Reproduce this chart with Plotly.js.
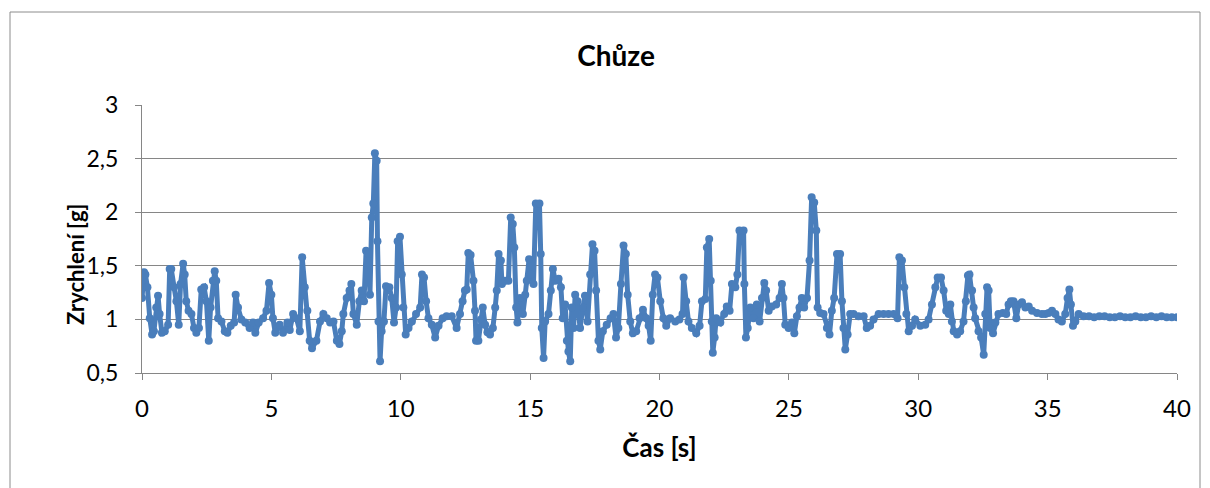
<!DOCTYPE html>
<html>
<head>
<meta charset="utf-8">
<script src="https://cdn.plot.ly/plotly-3.0.1.min.js"></script>
<style>html,body{margin:0;padding:0;background:#fff;}#chart{width:1210px;height:488px;}</style>
</head>
<body>
<div id="chart"></div>
<script>
// Time [s]
const time_s = [
  0, 0.08, 0.13, 0.21, 0.30, 0.39, 0.46, 0.55, 0.62, 0.68,
  0.77, 0.88, 1.01, 1.07, 1.13, 1.24, 1.33, 1.42, 1.49, 1.59,
  1.65, 1.71, 1.80, 1.91, 2.01, 2.10, 2.20, 2.29, 2.40, 2.49,
  2.58, 2.65, 2.74, 2.81, 2.87, 2.94, 3.07, 3.20, 3.30, 3.43,
  3.56, 3.62, 3.71, 3.84, 3.99, 4.16, 4.29, 4.38, 4.51, 4.68,
  4.81, 4.91, 5.00, 5.06, 5.15, 5.32, 5.45, 5.62, 5.71, 5.84,
  5.97, 6.10, 6.19, 6.29, 6.39, 6.48, 6.57, 6.74, 6.88, 7.01,
  7.14, 7.27, 7.40, 7.53, 7.63, 7.72, 7.78, 7.91, 8.02, 8.09,
  8.17, 8.30, 8.40, 8.49, 8.58, 8.66, 8.75, 8.81, 8.88, 8.94,
  9.00, 9.07, 9.10, 9.14, 9.20, 9.26, 9.35, 9.43, 9.56, 9.65,
  9.74, 9.82, 9.88, 9.97, 10.04, 10.10, 10.19, 10.30, 10.43, 10.59,
  10.75, 10.82, 10.90, 10.98, 11.07, 11.20, 11.33, 11.46, 11.62, 11.77,
  11.97, 12.16, 12.29, 12.39, 12.48, 12.55, 12.61, 12.70, 12.81, 12.87,
  12.91, 13.00, 13.10, 13.17, 13.26, 13.35, 13.45, 13.56, 13.65, 13.71,
  13.78, 13.87, 13.91, 14.03, 14.16, 14.25, 14.33, 14.39, 14.46, 14.51,
  14.61, 14.72, 14.81, 14.87, 14.96, 15.03, 15.13, 15.22, 15.36, 15.41,
  15.45, 15.52, 15.58, 15.71, 15.80, 15.88, 15.97, 16.10, 16.19, 16.26,
  16.35, 16.42, 16.48, 16.55, 16.61, 16.68, 16.74, 16.83, 16.93, 17.04,
  17.12, 17.22, 17.32, 17.41, 17.49, 17.55, 17.64, 17.71, 17.81, 17.96,
  18.11, 18.22, 18.32, 18.41, 18.51, 18.61, 18.70, 18.77, 18.87, 18.97,
  19.10, 19.23, 19.36, 19.49, 19.58, 19.66, 19.74, 19.83, 19.92, 20.03,
  20.15, 20.26, 20.41, 20.61, 20.77, 20.89, 20.93, 21.03, 21.12, 21.25,
  21.42, 21.55, 21.64, 21.77, 21.83, 21.92, 21.98, 22.02, 22.06, 22.13,
  22.19, 22.35, 22.50, 22.60, 22.71, 22.80, 22.93, 23.01, 23.09, 23.25,
  23.28, 23.34, 23.41, 23.51, 23.63, 23.76, 23.87, 23.96, 24.05, 24.12,
  24.22, 24.34, 24.51, 24.64, 24.73, 24.79, 24.86, 24.99, 25.12, 25.21,
  25.31, 25.41, 25.50, 25.59, 25.70, 25.80, 25.88, 25.98, 26.06, 26.11,
  26.21, 26.34, 26.47, 26.57, 26.66, 26.75, 26.86, 26.98, 27.05, 27.11,
  27.18, 27.27, 27.37, 27.50, 27.69, 27.89, 28.01, 28.14, 28.27, 28.47,
  28.66, 28.85, 29.05, 29.20, 29.27, 29.37, 29.46, 29.54, 29.63, 29.76,
  29.88, 30.08, 30.27, 30.40, 30.53, 30.66, 30.75, 30.88, 30.98, 31.08,
  31.18, 31.24, 31.30, 31.37, 31.50, 31.62, 31.75, 31.84, 31.92, 31.98,
  32.08, 32.14, 32.20, 32.33, 32.43, 32.53, 32.59, 32.66, 32.72, 32.78,
  32.89, 32.98, 33.10, 33.27, 33.40, 33.49, 33.58, 33.68, 33.79, 33.88,
  34.01, 34.14, 34.27, 34.40, 34.59, 34.78, 34.91, 35.04, 35.17, 35.30,
  35.42, 35.55, 35.68, 35.77, 35.84, 35.90, 35.98, 36.07, 36.20, 36.39,
  36.60, 36.80, 37.00, 37.20, 37.40, 37.60, 37.80, 38.00, 38.20, 38.40,
  38.60, 38.80, 39.00, 39.20, 39.40, 39.60, 39.80, 40.00
];
// Acceleration [g]
const accel_g = [
  1.20, 1.44, 1.42, 1.30, 1.01, 0.86, 0.89, 1.11, 1.22, 1.05,
  0.875, 0.89, 0.95, 1.47, 1.47, 1.30, 1.17, 0.95, 1.33, 1.52,
  1.42, 1.17, 1.08, 1.05, 0.92, 0.875, 0.92, 1.28, 1.30, 1.17,
  0.80, 1.11, 1.36, 1.45, 1.36, 1.01, 0.98, 0.89, 0.875, 0.94,
  0.97, 1.23, 1.11, 1.00, 0.97, 0.92, 0.97, 0.875, 0.97, 1.01,
  1.08, 1.34, 1.23, 1.01, 0.875, 0.95, 0.875, 0.97, 0.90, 1.05,
  1.01, 0.89, 1.58, 1.30, 1.08, 0.80, 0.73, 0.80, 0.98, 1.05,
  1.01, 0.97, 0.98, 0.80, 0.77, 0.89, 1.05, 1.20, 1.27, 1.33,
  1.05, 0.95, 1.17, 1.27, 1.17, 1.64, 1.61, 1.23, 1.95, 2.08,
  2.55, 2.48, 1.73, 0.98, 0.61, 0.89, 0.98, 1.31, 1.30, 1.20,
  0.97, 1.11, 1.73, 1.77, 1.42, 1.11, 0.86, 0.92, 0.98, 1.05,
  1.11, 1.42, 1.39, 1.17, 1.01, 0.95, 0.83, 0.94, 1.01, 1.03,
  1.03, 0.92, 1.05, 1.17, 1.27, 1.28, 1.62, 1.60, 1.36, 1.08,
  0.80, 0.80, 1.00, 1.11, 0.95, 0.88, 0.86, 0.92, 1.11, 1.27,
  1.61, 1.55, 1.33, 1.36, 1.36, 1.95, 1.89, 1.67, 1.11, 0.97,
  1.20, 1.05, 1.23, 1.36, 1.56, 1.42, 1.33, 2.08, 2.08, 1.61,
  0.92, 0.64, 0.98, 1.05, 1.27, 1.47, 1.36, 1.38, 1.30, 1.01,
  1.14, 0.80, 0.70, 0.61, 1.11, 0.92, 1.23, 1.17, 0.92, 1.11,
  1.22, 0.98, 1.42, 1.70, 1.64, 1.27, 0.80, 0.72, 0.89, 0.95,
  1.01, 1.05, 0.83, 0.92, 1.33, 1.69, 1.61, 1.23, 0.98, 0.87,
  0.89, 1.01, 1.09, 1.01, 0.94, 0.80, 1.23, 1.42, 1.39, 1.17,
  1.01, 0.94, 1.01, 0.98, 1.00, 1.05, 1.39, 1.17, 0.98, 0.92,
  0.87, 0.94, 1.17, 1.19, 1.67, 1.75, 1.36, 0.98, 0.69, 0.83,
  1.01, 0.97, 1.05, 1.12, 1.08, 1.33, 1.30, 1.42, 1.83, 1.83,
  1.33, 0.83, 0.92, 1.11, 1.01, 1.14, 0.98, 1.20, 1.34, 1.27,
  1.08, 1.12, 1.14, 1.20, 1.33, 1.20, 0.95, 0.92, 0.97, 0.87,
  1.03, 1.11, 1.20, 1.11, 1.20, 1.55, 2.14, 2.09, 1.83, 1.11,
  1.06, 1.05, 0.92, 0.86, 1.08, 1.20, 1.61, 1.61, 1.17, 0.92,
  0.72, 0.86, 1.05, 1.05, 1.03, 1.03, 0.92, 0.94, 1.00, 1.05,
  1.05, 1.05, 1.05, 1.01, 1.58, 1.55, 1.30, 1.05, 0.89, 0.94,
  1.00, 0.94, 0.95, 1.00, 1.14, 1.30, 1.39, 1.39, 1.27, 1.08,
  1.05, 1.14, 0.98, 0.89, 0.86, 0.89, 0.98, 1.17, 1.41, 1.42,
  1.27, 1.11, 1.01, 0.89, 0.83, 0.67, 1.05, 1.30, 1.27, 0.92,
  0.87, 0.97, 1.05, 1.06, 1.05, 1.14, 1.17, 1.17, 1.01, 1.14,
  1.16, 1.11, 1.12, 1.08, 1.06, 1.05, 1.05, 1.06, 1.08, 1.05,
  1.00, 0.98, 1.05, 1.20, 1.28, 1.14, 0.94, 0.98, 1.05, 1.03,
  1.03, 1.02, 1.03, 1.03, 1.02, 1.02, 1.03, 1.02, 1.02, 1.03,
  1.02, 1.02, 1.03, 1.02, 1.03, 1.02, 1.02, 1.02
];

const chartTitle = 'Chůze';
const xTitle = 'Čas [s]';
const yTitle = 'Zrychlení [g]';

const FONT = 'Lato, "Liberation Sans", sans-serif';
const BLUE = '#4A7EBB';
const GRID = '#868686';

const trace = {
  type: 'scatter',
  mode: 'lines+markers',
  x: time_s,
  y: accel_g,
  line: {color: BLUE, width: 5},
  marker: {color: BLUE, size: 8},
  showlegend: false,
  hoverinfo: 'x+y'
};

const layout = {
  width: 1210,
  height: 488,
  margin: {l: 142, r: 33, t: 105, b: 115},
  paper_bgcolor: '#ffffff',
  plot_bgcolor: '#ffffff',
  separators: ', ',
  font: {family: FONT, size: 23, color: '#000000'},
  title: {
    text: '<b>' + chartTitle + '</b>',
    font: {family: FONT, size: 28, color: '#000000'},
    x: 616 / 1210, xanchor: 'center', xref: 'container',
    y: 1 - 56 / 488, yanchor: 'middle', yref: 'container'
  },
  xaxis: {
    range: [0, 40],
    tick0: 0, dtick: 5,
    showgrid: false,
    zeroline: false,
    showline: true, linecolor: GRID, linewidth: 1,
    ticks: 'outside', ticklen: 6, tickcolor: GRID,
    ticklabelstandoff: 8,
    tickfont: {family: FONT, size: 24, color: '#000000'},
    title: {text: '<b>' + xTitle + '</b>', font: {family: FONT, size: 26, color: '#000000'}, standoff: 18}
  },
  yaxis: {
    range: [0.5, 3],
    tick0: 0.5, dtick: 0.5,
    showgrid: true, gridcolor: GRID, gridwidth: 1,
    zeroline: false,
    showline: true, linecolor: GRID, linewidth: 1,
    ticks: 'outside', ticklen: 6, tickcolor: GRID,
    ticklabelstandoff: 12,
    tickfont: {family: FONT, size: 23, color: '#000000'}
  },
  annotations: [
    {text: '<b>' + yTitle + '</b>', textangle: -90, showarrow: false,
     xref: 'paper', yref: 'paper',
     x: (75 - 142) / 1035, xanchor: 'center',
     y: (373 - 264) / 268, yanchor: 'middle',
     font: {family: FONT, size: 22, color: '#000000'}}
  ],
  shapes: [
    {type: 'rect', xref: 'paper', yref: 'paper',
     x0: (10 - 142) / 1035, x1: (1200 - 142) / 1035,
     y0: (373 - 492) / 268, y1: (373 - 12) / 268,
     line: {color: '#8c8c8c', width: 1}, fillcolor: 'rgba(0,0,0,0)', layer: 'below'}
  ]
};

Plotly.newPlot('chart', [trace], layout, {displayModeBar: false, staticPlot: true});
</script>
</body>
</html>
